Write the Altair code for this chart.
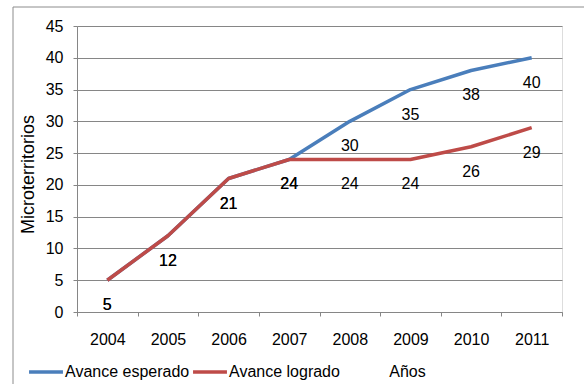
import altair as alt
import pandas as pd

# Progress in microterritories per year
years = ["2004", "2005", "2006", "2007", "2008", "2009", "2010", "2011"]
esperado = [5, 12, 21, 24, 30, 35, 38, 40]
logrado = [5, 12, 21, 24, 24, 24, 26, 29]

series_names = ["Avance esperado", "Avance logrado"]
series_colors = ["#4A7EBB", "#BE4B48"]

rows = []
for name, values in zip(series_names, [esperado, logrado]):
    for y, v in zip(years, values):
        rows.append({"Año": y, "Valor": v, "Serie": name})
df = pd.DataFrame(rows)

FONT = "Liberation Sans"
GRID = "#868686"

x_enc = alt.X(
    "Año:O",
    scale=alt.Scale(type="band", paddingInner=0, paddingOuter=0),
    axis=alt.Axis(
        title="Años",
        labelAngle=0,
        grid=False,
        domainColor=GRID,
        tickColor=GRID,
        tickSize=4,
        tickBand="extent",
        labelPadding=15,
        labelFontSize=16,
        labelColor="black",
        titleFontSize=16,
        titleFontWeight="normal",
        titleColor="black",
        titleX=330,
        titleY=59,
        titleAlign="center",
        titleBaseline="middle",
    ),
)
y_enc = alt.Y(
    "Valor:Q",
    scale=alt.Scale(domain=[0, 45], nice=False),
    axis=alt.Axis(
        title="Microterritorios",
        values=list(range(0, 46, 5)),
        grid=True,
        gridColor=GRID,
        gridOpacity=1,
        domainColor=GRID,
        tickColor=GRID,
        tickSize=4,
        labelPadding=10,
        labelFontSize=16,
        labelColor="black",
        titleFontSize=18,
        titleFontWeight="normal",
        titleColor="black",
        titlePadding=8,
        titleY=148,
    ),
)

color_enc = alt.Color(
    "Serie:N",
    scale=alt.Scale(domain=series_names, range=series_colors),
    legend=alt.Legend(
        title=None,
        orient="none",
        legendX=-50,
        legendY=327,
        direction="horizontal",
        symbolType="stroke",
        symbolSize=1150,
        symbolStrokeWidth=3.5,
        labelFontSize=16,
        labelColor="black",
        labelOffset=0,
        columnPadding=-4,
    ),
)

frame = alt.Chart(pd.DataFrame({"k": [0]})).mark_rect(
    fill=None, stroke="#8c8c8c", strokeWidth=1
).encode(
    x=alt.value(-64), x2=alt.value(700), y=alt.value(-19), y2=alt.value(500)
)

lines = alt.Chart(df).mark_line(strokeWidth=3.5, strokeJoin="round").encode(
    x=x_enc, y=y_enc, color=color_enc, order=alt.Order("Año:O")
)

labels = alt.Chart(df).mark_text(
    dy=25, fontSize=16, color="black", font=FONT
).encode(x=x_enc, y=y_enc, text="Valor:Q")

chart = (
    alt.layer(frame, lines, labels)
    .properties(
        width=485,
        height=286,
        autosize=alt.AutoSizeParams(type="none"),
        padding={"left": 77, "top": 26, "right": 22, "bottom": 72},
        background="white",
    )
    .configure_view(stroke=None)
    .configure(font=FONT)
)

chart.save("out.html", embed_options={"renderer": "svg", "actions": False})
